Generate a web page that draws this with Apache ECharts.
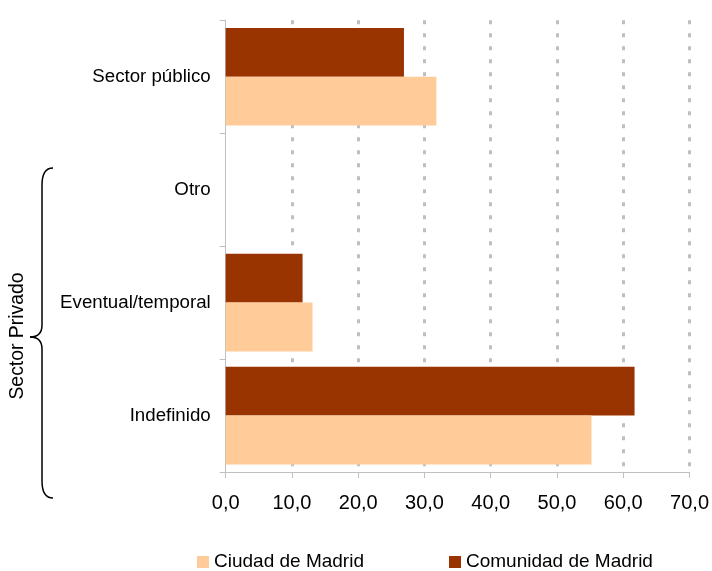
<!DOCTYPE html>
<html>
<head>
<meta charset="utf-8">
<script src="https://cdn.jsdelivr.net/npm/echarts@6/dist/echarts.min.js"></script>
<style>
html,body{margin:0;padding:0;background:#fff;}
#chart{width:712px;height:571px;}
</style>
</head>
<body>
<div id="chart"></div>
<script>
var categories = ['Indefinido', 'Eventual/temporal', 'Otro', 'Sector público'];
var ciudadValues = [55.2, 13.1, 0, 31.8];
var comunidadValues = [61.7, 11.6, 0, 26.9];
var seriesNames = ['Ciudad de Madrid', 'Comunidad de Madrid'];
var groupLabel = 'Sector Privado';
var xTicks = { min: 0, max: 70, interval: 10 };

var FONT = '"Liberation Sans", Arial, sans-serif';
var chart = echarts.init(document.getElementById('chart'), null, { renderer: 'canvas' });

var braceStyle = { stroke: '#000', lineWidth: 1.5, fill: null };
function curve(x1, y1, cx, cy, x2, y2) {
  return { type: 'bezierCurve', shape: { x1: x1, y1: y1, cpx1: cx, cpy1: cy, x2: x2, y2: y2 }, style: braceStyle };
}
function seg(x1, y1, x2, y2) {
  return { type: 'line', shape: { x1: x1, y1: y1, x2: x2, y2: y2 }, style: braceStyle };
}

var option = {
  backgroundColor: '#ffffff',
  animation: false,
  textStyle: { fontFamily: FONT, color: '#000' },
  grid: { left: 225.7, right: 21.7, top: 20.3, bottom: 99, containLabel: false },
  legend: {
    data: seriesNames,
    left: 192,
    top: 547.5,
    itemWidth: 12,
    itemHeight: 12,
    itemGap: 85,
    icon: 'rect',
    textStyle: { fontFamily: FONT, fontSize: 19, color: '#000' }
  },
  xAxis: {
    type: 'value',
    min: xTicks.min,
    max: xTicks.max,
    interval: xTicks.interval,
    axisLine: { show: true, lineStyle: { color: '#BFBFBF', width: 1 } },
    axisTick: { show: true, length: 6, lineStyle: { color: '#BFBFBF' } },
    axisLabel: {
      margin: 21,
      fontSize: 20,
      fontFamily: FONT,
      color: '#000',
      formatter: function (v) { return v.toFixed(1).replace('.', ','); }
    },
    splitLine: {
      show: true,
      showMinLine: false,
      lineStyle: { color: '#BFBFBF', width: 3, type: [4, 9] }
    }
  },
  yAxis: {
    type: 'category',
    data: categories,
    axisLine: { show: true, lineStyle: { color: '#BFBFBF', width: 1 } },
    axisTick: { show: true, length: 6, lineStyle: { color: '#BFBFBF' } },
    axisLabel: { margin: 15, fontSize: 18.7, fontFamily: FONT, color: '#000' },
    splitLine: { show: false }
  },
  series: [
    {
      name: seriesNames[1],
      type: 'bar',
      data: comunidadValues,
      itemStyle: { color: '#993300' },
      barGap: '0%',
      barCategoryGap: '13.5%'
    },
    {
      name: seriesNames[0],
      type: 'bar',
      data: ciudadValues,
      itemStyle: { color: '#FFCC99' },
      barGap: '0%',
      barCategoryGap: '13.5%'
    }
  ],
  graphic: [
    curve(53, 168, 42, 168, 42, 185),
    seg(42, 185, 42, 325),
    curve(42, 325, 42, 337, 30, 337),
    curve(30, 337, 42, 337, 42, 349),
    seg(42, 349, 42, 481),
    curve(42, 481, 42, 498, 53, 498),
    {
      type: 'text',
      x: 18,
      y: 336,
      rotation: Math.PI / 2,
      style: {
        text: groupLabel,
        fontFamily: FONT,
        fontSize: 19.4,
        fill: '#000',
        align: 'center',
        verticalAlign: 'middle'
      }
    }
  ]
};
chart.setOption(option);
</script>
</body>
</html>
